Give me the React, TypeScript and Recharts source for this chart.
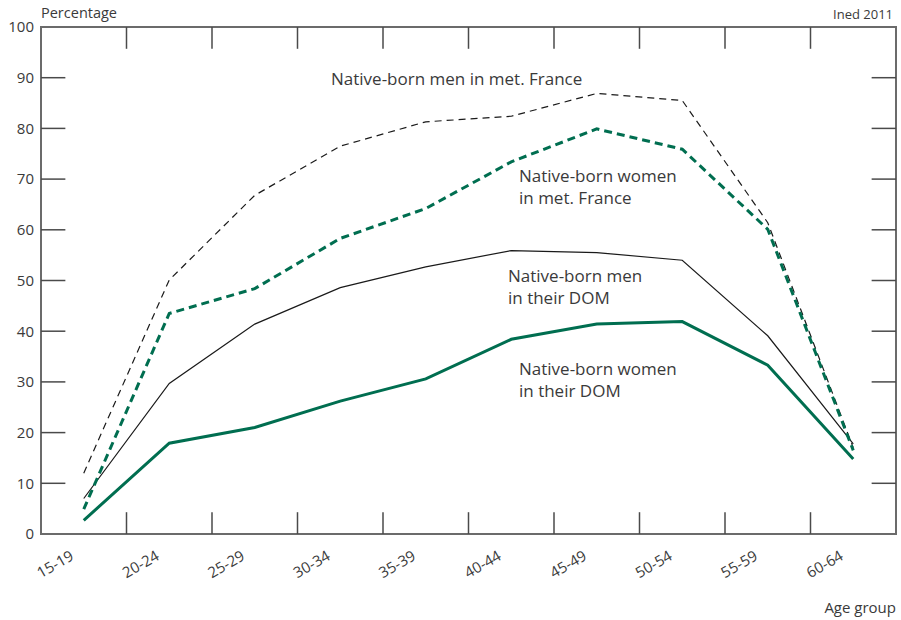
import React from "react";
import {
  LineChart,
  Line,
  XAxis,
  YAxis,
  ReferenceArea,
  ReferenceLine,
} from "recharts";

const categories = [
  "15-19",
  "20-24",
  "25-29",
  "30-34",
  "35-39",
  "40-44",
  "45-49",
  "50-54",
  "55-59",
  "60-64",
];

// Native-born men in met. France
const menMetFrance = [12, 50.1, 66.8, 76.5, 81.3, 82.4, 86.9, 85.5, 61.4, 17];
// Native-born women in met. France
const womenMetFrance = [4.9, 43.5, 48.4, 58.3, 64.2, 73.4, 79.9, 75.9, 60.1, 16.5];
// Native-born men in their DOM
const menDom = [7, 29.7, 41.4, 48.6, 52.7, 55.9, 55.5, 54, 39.1, 17.8];
// Native-born women in their DOM
const womenDom = [2.7, 17.9, 21, 26.2, 30.6, 38.4, 41.4, 41.9, 33.3, 14.8];

const yTicks = [0, 10, 20, 30, 40, 50, 60, 70, 80, 90, 100];

const GREEN = "#006e50";
const TEXT = "#3a3a3a";
const FONT = "'Open Sans', 'Noto Sans', sans-serif";

const data = categories.map((c, i) => ({
  idx: i,
  cat: c,
  menMetFrance: menMetFrance[i],
  womenMetFrance: womenMetFrance[i],
  menDom: menDom[i],
  womenDom: womenDom[i],
}));

// band boundaries between categories, where the frame ticks sit
const xBounds = categories.slice(1).map((_, i) => i + 0.5);
const yInner = yTicks.slice(1, -1);

function AgeTick(props: any) {
  const { x, y, payload } = props;
  const label = categories[payload?.value] ?? "";
  const ax = x - 9;
  const ay = y + 17;
  return (
    <text
      x={ax}
      y={ay}
      transform={`rotate(-30, ${ax}, ${ay})`}
      textAnchor="end"
      fill={TEXT}
      fontSize={15}
      fontFamily={FONT}
    >
      {label}
    </text>
  );
}

const note: React.CSSProperties = {
  position: "absolute",
  fontFamily: FONT,
  fontSize: 17,
  lineHeight: "22px",
  color: TEXT,
  whiteSpace: "nowrap",
};

export default function App() {
  return (
    <div
      style={{
        position: "absolute",
        left: 0,
        top: 0,
        width: 901,
        height: 620,
        background: "#fff",
        fontFamily: FONT,
      }}
    >
      <LineChart
        width={901}
        height={620}
        data={data}
        margin={{ top: 27, right: 5, left: 0, bottom: 36 }}
      >
        <XAxis
          dataKey="idx"
          type="number"
          domain={[-0.5, 9.5]}
          ticks={categories.map((_, i) => i)}
          interval={0}
          tick={<AgeTick />}
          tickLine={false}
          axisLine={false}
          height={50}
        />
        <YAxis
          domain={[0, 100]}
          ticks={yTicks}
          interval={0}
          width={41}
          tickLine={false}
          axisLine={false}
          tickSize={0}
          tickMargin={7}
          tick={{ fill: TEXT, fontSize: 15, fontFamily: FONT }}
        />

        <ReferenceArea
          x1={-0.5}
          x2={9.5}
          y1={0}
          y2={100}
          fill="none"
          stroke="#6b6b6b"
          strokeWidth={2}
        />

        {xBounds.map((b) => (
          <ReferenceLine
            key={`xb${b}`}
            segment={[
              { x: b, y: 0 },
              { x: b, y: 4.3 },
            ]}
            stroke="#4a4a4a"
            strokeWidth={1.5}
          />
        ))}
        {xBounds.map((b) => (
          <ReferenceLine
            key={`xt${b}`}
            segment={[
              { x: b, y: 100 },
              { x: b, y: 95.7 },
            ]}
            stroke="#4a4a4a"
            strokeWidth={1.5}
          />
        ))}
        {yInner.map((v) => (
          <ReferenceLine
            key={`yl${v}`}
            segment={[
              { x: -0.5, y: v },
              { x: -0.215, y: v },
            ]}
            stroke="#4a4a4a"
            strokeWidth={1.5}
          />
        ))}
        {yInner.map((v) => (
          <ReferenceLine
            key={`yr${v}`}
            segment={[
              { x: 9.5, y: v },
              { x: 9.215, y: v },
            ]}
            stroke="#4a4a4a"
            strokeWidth={1.5}
          />
        ))}

        <Line
          type="linear"
          dataKey="menMetFrance"
          stroke="#1a1a1a"
          strokeWidth={1.2}
          strokeDasharray="7 5"
          dot={false}
          activeDot={false}
          isAnimationActive={false}
        />
        <Line
          type="linear"
          dataKey="menDom"
          stroke="#1a1a1a"
          strokeWidth={1.2}
          dot={false}
          activeDot={false}
          isAnimationActive={false}
        />
        <Line
          type="linear"
          dataKey="womenMetFrance"
          stroke={GREEN}
          strokeWidth={3}
          strokeDasharray="8 5"
          dot={false}
          activeDot={false}
          isAnimationActive={false}
        />
        <Line
          type="linear"
          dataKey="womenDom"
          stroke={GREEN}
          strokeWidth={3}
          dot={false}
          activeDot={false}
          isAnimationActive={false}
        />
      </LineChart>

      <div style={{ ...note, fontSize: 14.5, left: 41, top: 2 }}>Percentage</div>
      <div style={{ ...note, fontSize: 13, right: 8, top: 3 }}>Ined 2011</div>
      <div style={{ ...note, fontSize: 15, right: 5, top: 596 }}>Age group</div>

      <div style={{ ...note, left: 331, top: 68 }}>
        Native-born men in met. France
      </div>
      <div style={{ ...note, left: 519, top: 165 }}>
        Native-born women
        <br />
        in met. France
      </div>
      <div style={{ ...note, left: 508, top: 265 }}>
        Native-born men
        <br />
        in their DOM
      </div>
      <div style={{ ...note, left: 519, top: 358 }}>
        Native-born women
        <br />
        in their DOM
      </div>
    </div>
  );
}
